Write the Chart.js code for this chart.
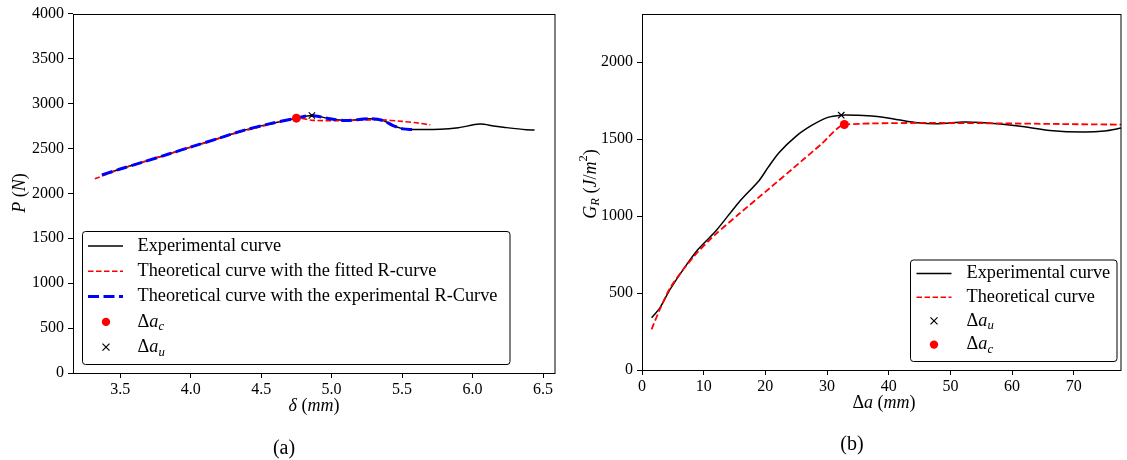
<!DOCTYPE html>
<html><head><meta charset="utf-8">
<script src="https://cdn.jsdelivr.net/npm/chart.js@4.4.0/dist/chart.umd.min.js"></script>
<style>
html,body{margin:0;padding:0;background:#fff;}
#wrap{position:relative;width:1127px;height:460px;overflow:hidden;background:#fff;}
canvas{position:absolute;top:0;}
#ca{left:0;} #cb{left:570px;}
.cap{position:absolute;font-family:"Liberation Serif",serif;font-size:20px;color:#000;transform:translate(-50%,-50%);white-space:nowrap;}
</style></head><body>
<div id="wrap">
<canvas id="ca" width="570" height="460"></canvas>
<canvas id="cb" width="557" height="460"></canvas>
<div class="cap" style="left:284px;top:447px">(a)</div>
<div class="cap" style="left:852px;top:443px">(b)</div>
</div>
<script>
// ---------------- data: panel (a) ----------------
const xTicksA = [3.5, 4.0, 4.5, 5.0, 5.5, 6.0, 6.5];
const yTicksA = [0, 500, 1000, 1500, 2000, 2500, 3000, 3500, 4000];
const expDeltaA = [3.37, 3.50, 3.66, 3.85, 4.02, 4.20, 4.37, 4.55, 4.75, 4.86, 4.99, 5.10, 5.27, 5.365, 5.436, 5.507, 5.578, 5.77, 5.90, 6.05, 6.15, 6.22, 6.38, 6.44];
const expPA     = [2205, 2270, 2347, 2440, 2525, 2612, 2698, 2770, 2836, 2866, 2829, 2810, 2829, 2810, 2754, 2717, 2710, 2712, 2730, 2770, 2750, 2735, 2707, 2705];
const fitDeltaA = [3.32, 3.50, 3.70, 3.90, 4.10, 4.30, 4.50, 4.75, 4.87, 5.10, 5.34, 5.50, 5.60, 5.70];
const fitPA     = [2162, 2268, 2368, 2465, 2560, 2660, 2742, 2836, 2812, 2810, 2818, 2800, 2785, 2762];
const rcDeltaA  = [3.37, 3.50, 3.66, 3.85, 4.02, 4.20, 4.37, 4.55, 4.75, 4.86, 4.99, 5.10, 5.27, 5.365, 5.436, 5.507, 5.578];
const rcPA      = [2205, 2270, 2347, 2440, 2525, 2612, 2698, 2770, 2836, 2866, 2829, 2810, 2829, 2810, 2754, 2717, 2710];
const acA = [4.75, 2836];
const auA = [4.86, 2866];

// ---------------- data: panel (b) ----------------
const xTicksB = [0, 10, 20, 30, 40, 50, 60, 70];
const yTicksB = [0, 500, 1000, 1500, 2000];
const expDaB = [1.56, 2.9, 4.5, 6.64, 9, 12, 15.75, 19.0, 20.5, 22.2, 25, 27.5, 30.0, 32.3, 35, 37.7, 41, 44.7, 48, 52.2, 55, 58.1, 62, 66.1, 71.5, 75, 77.7];
const expGB  = [339, 404, 520, 651, 780, 905, 1092, 1232, 1320, 1412, 1520, 1589, 1640, 1656, 1655, 1649, 1630, 1606, 1600, 1612, 1608, 1598, 1580, 1557, 1546, 1553, 1572];
const thDaB = [1.55, 2.9, 4.5, 6.64, 9, 10.7, 12, 15.75, 20.6, 25, 29, 32.8, 77.7];
const thGB  = [264, 395, 530, 651, 765, 835, 885, 1015, 1178, 1328, 1465, 1595, 1595];
const auB = [32.3, 1656];
const acB = [32.8, 1595];

const FONT = '"Liberation Serif", "Times New Roman", serif';
const zip = (xs, ys) => xs.map((x, i) => ({x: x, y: ys[i]}));

function segFont(s, size){ const sz = (s.sub||s.sup) ? size*0.7 : size; return (s.it ? 'italic ' : '') + sz + 'px ' + FONT; }
function richWidth(ctx, segs, size){ let w = 0; for (const s of segs){ ctx.font = segFont(s,size); w += ctx.measureText(s.t).width; } return w; }
function drawRich(ctx, segs, x, y, size, align){
  let cx = align === 'center' ? x - richWidth(ctx, segs, size)/2 : x;
  ctx.textBaseline = 'middle'; ctx.textAlign = 'left'; ctx.fillStyle = '#000';
  for (const s of segs){
    ctx.font = segFont(s, size);
    const dy = s.sub ? size*0.28 : (s.sup ? -size*0.38 : 0);
    ctx.fillText(s.t, cx, y + dy);
    cx += ctx.measureText(s.t).width;
  }
}

const segDa = (sub) => [{t:'Δ'},{t:'a',it:true},{t:sub,it:true,sub:true}];
const LEGFONT = 18.3;

const decor = {
  ca: {
    xTitle: {segs:[{t:'δ',it:true},{t:' ('},{t:'mm',it:true},{t:')'}], x:314, y:406},
    yTitle: {segs:[{t:'P',it:true},{t:' ('},{t:'N',it:true},{t:')'}], x:20, y:193},
    legend: {box:[82.5, 231.5, 510, 364.5], rowY:246, step:25.3, lx0:88, lx1:123, mx:106, tx:137.5,
      items:[
        {kind:'line', color:'#000', width:1.5, dash:[], segs:[{t:'Experimental curve'}]},
        {kind:'line', color:'#ff0000', width:1.6, dash:[5.5,2.5], segs:[{t:'Theoretical curve with the fitted R-curve'}]},
        {kind:'line', color:'#0000ff', width:3, dash:[11,4.5], segs:[{t:'Theoretical curve with the experimental R-Curve'}]},
        {kind:'dot', color:'#ff0000', segs:segDa('c')},
        {kind:'x', color:'#000', segs:segDa('u')}
      ]}
  },
  cb: {
    xTitle: {segs:[{t:'Δ'},{t:'a',it:true},{t:' ('},{t:'mm',it:true},{t:')'}], x:314, y:403},
    yTitle: {segs:[{t:'G',it:true},{t:'R',it:true,sub:true},{t:' ('},{t:'J',it:true},{t:'/'},{t:'m',it:true},{t:'2',sup:true},{t:')'}], x:21, y:184},
    legend: {box:[340.5, 260, 547, 361.5], rowY:273.5, step:23.7, lx0:346.5, lx1:381.5, mx:364, tx:396.5,
      items:[
        {kind:'line', color:'#000', width:1.5, dash:[], segs:[{t:'Experimental curve'}]},
        {kind:'line', color:'#ff0000', width:1.6, dash:[5.5,2.5], segs:[{t:'Theoretical curve'}]},
        {kind:'x', color:'#000', segs:segDa('u')},
        {kind:'dot', color:'#ff0000', segs:segDa('c')}
      ]}
  }
};

const decorPlugin = {
  id: 'figDecor',
  afterDraw(chart){
    const d = decor[chart.canvas.id]; if (!d) return;
    const ctx = chart.ctx, a = chart.chartArea;
    ctx.save();
    ctx.strokeStyle = '#000'; ctx.lineWidth = 1; ctx.setLineDash([]);
    ctx.strokeRect(Math.round(a.left)+0.5, Math.round(a.top)+0.5, Math.round(a.right-a.left)-1+0.5, Math.round(a.bottom-a.top));
    drawRich(ctx, d.xTitle.segs, d.xTitle.x, d.xTitle.y, 18, 'center');
    ctx.save(); ctx.translate(d.yTitle.x, d.yTitle.y); ctx.rotate(-Math.PI/2);
    drawRich(ctx, d.yTitle.segs, 0, 0, 18, 'center'); ctx.restore();
    const L = d.legend, b = L.box;
    ctx.beginPath();
    ctx.roundRect(b[0], b[1], b[2]-b[0], b[3]-b[1], 3);
    ctx.fillStyle = 'rgba(255,255,255,0.85)'; ctx.fill();
    ctx.strokeStyle = '#000'; ctx.lineWidth = 1; ctx.stroke();
    L.items.forEach((it, i) => {
      const y = L.rowY + i*L.step;
      if (it.kind === 'line'){
        ctx.beginPath(); ctx.setLineDash(it.dash); ctx.strokeStyle = it.color; ctx.lineWidth = it.width;
        ctx.moveTo(L.lx0, y); ctx.lineTo(L.lx1, y); ctx.stroke(); ctx.setLineDash([]);
      } else if (it.kind === 'dot'){
        ctx.beginPath(); ctx.fillStyle = it.color; ctx.arc(L.mx, y, 4.2, 0, Math.PI*2); ctx.fill();
      } else {
        ctx.beginPath(); ctx.strokeStyle = it.color; ctx.lineWidth = 1.2;
        ctx.moveTo(L.mx-3.5, y-3.5); ctx.lineTo(L.mx+3.5, y+3.5);
        ctx.moveTo(L.mx-3.5, y+3.5); ctx.lineTo(L.mx+3.5, y-3.5); ctx.stroke();
      }
      drawRich(ctx, it.segs, L.tx, y, LEGFONT, 'left');
    });
    ctx.restore();
  }
};

function axis(min, max, tickVals, fmt, fitKey, fitVal){
  return {
    type: 'linear', min: min, max: max,
    afterBuildTicks: (s) => { s.ticks = tickVals.map(v => ({value: v})); },
    afterFit: (s) => { s[fitKey] = fitVal; },
    ticks: { font: {family: FONT, size: 16}, color: '#000', padding: fitKey === 'height' ? 2 : 4, callback: fmt, maxRotation: 0, autoSkip: false },
    grid: { drawOnChartArea: false, drawTicks: true, tickLength: 5, color: '#000', lineWidth: 1 },
    border: { display: false }
  };
}

const lineDs = (data, color, width, dash, order, tension) => ({
  data: data, borderColor: color, backgroundColor: color, borderWidth: width, borderDash: dash,
  pointRadius: 0, pointHoverRadius: 0, tension: tension, fill: false, order: order, showLine: true
});
const ptDs = (pt, style, color, order) => ({
  data: [{x: pt[0], y: pt[1]}], showLine: false, pointStyle: style, pointRadius: 4.5,
  pointBorderWidth: style === 'circle' ? 0 : 1.2, pointBackgroundColor: color, pointBorderColor: color,
  borderColor: color, backgroundColor: color, order: order
});

const common = (padding, scales) => ({
  responsive: false, devicePixelRatio: 1, animation: false, events: [],
  layout: { padding: padding },
  plugins: { legend: {display: false}, tooltip: {enabled: false} },
  scales: scales
});

new Chart(document.getElementById('ca'), {
  type: 'line',
  data: { datasets: [
    lineDs(zip(expDeltaA, expPA), '#000', 1.5, [], 5, 0.3),
    lineDs(zip(fitDeltaA, fitPA), '#ff0000', 1.6, [5.5, 2.5], 4, 0.3),
    lineDs(zip(rcDeltaA, rcPA), '#0000ff', 3, [11, 4.5], 3, 0.3),
    ptDs(acA, 'circle', '#ff0000', 2),
    ptDs(auA, 'crossRot', '#000', 1)
  ]},
  options: common({left: 0, top: 13, right: 15, bottom: 47}, {
    x: axis(3.165, 6.585, xTicksA, (v) => Number(v).toFixed(1), 'height', 40),
    y: axis(0, 4000, yTicksA, (v) => String(v), 'width', 73)
  }),
  plugins: [decorPlugin]
});

new Chart(document.getElementById('cb'), {
  type: 'line',
  data: { datasets: [
    lineDs(zip(expDaB, expGB), '#000', 1.5, [], 5, 0.25),
    lineDs(zip(thDaB, thGB), '#ff0000', 1.8, [6.5, 3], 4, 0.2),
    ptDs(auB, 'crossRot', '#000', 2),
    ptDs(acB, 'circle', '#ff0000', 1)
  ]},
  options: common({left: 0, top: 10, right: 2, bottom: 50}, {
    x: axis(0, 77.7, xTicksB, (v) => String(v), 'height', 40),
    y: axis(0, 2316, yTicksB, (v) => String(v), 'width', 72)
  }),
  plugins: [decorPlugin]
});
</script>
</body></html>
